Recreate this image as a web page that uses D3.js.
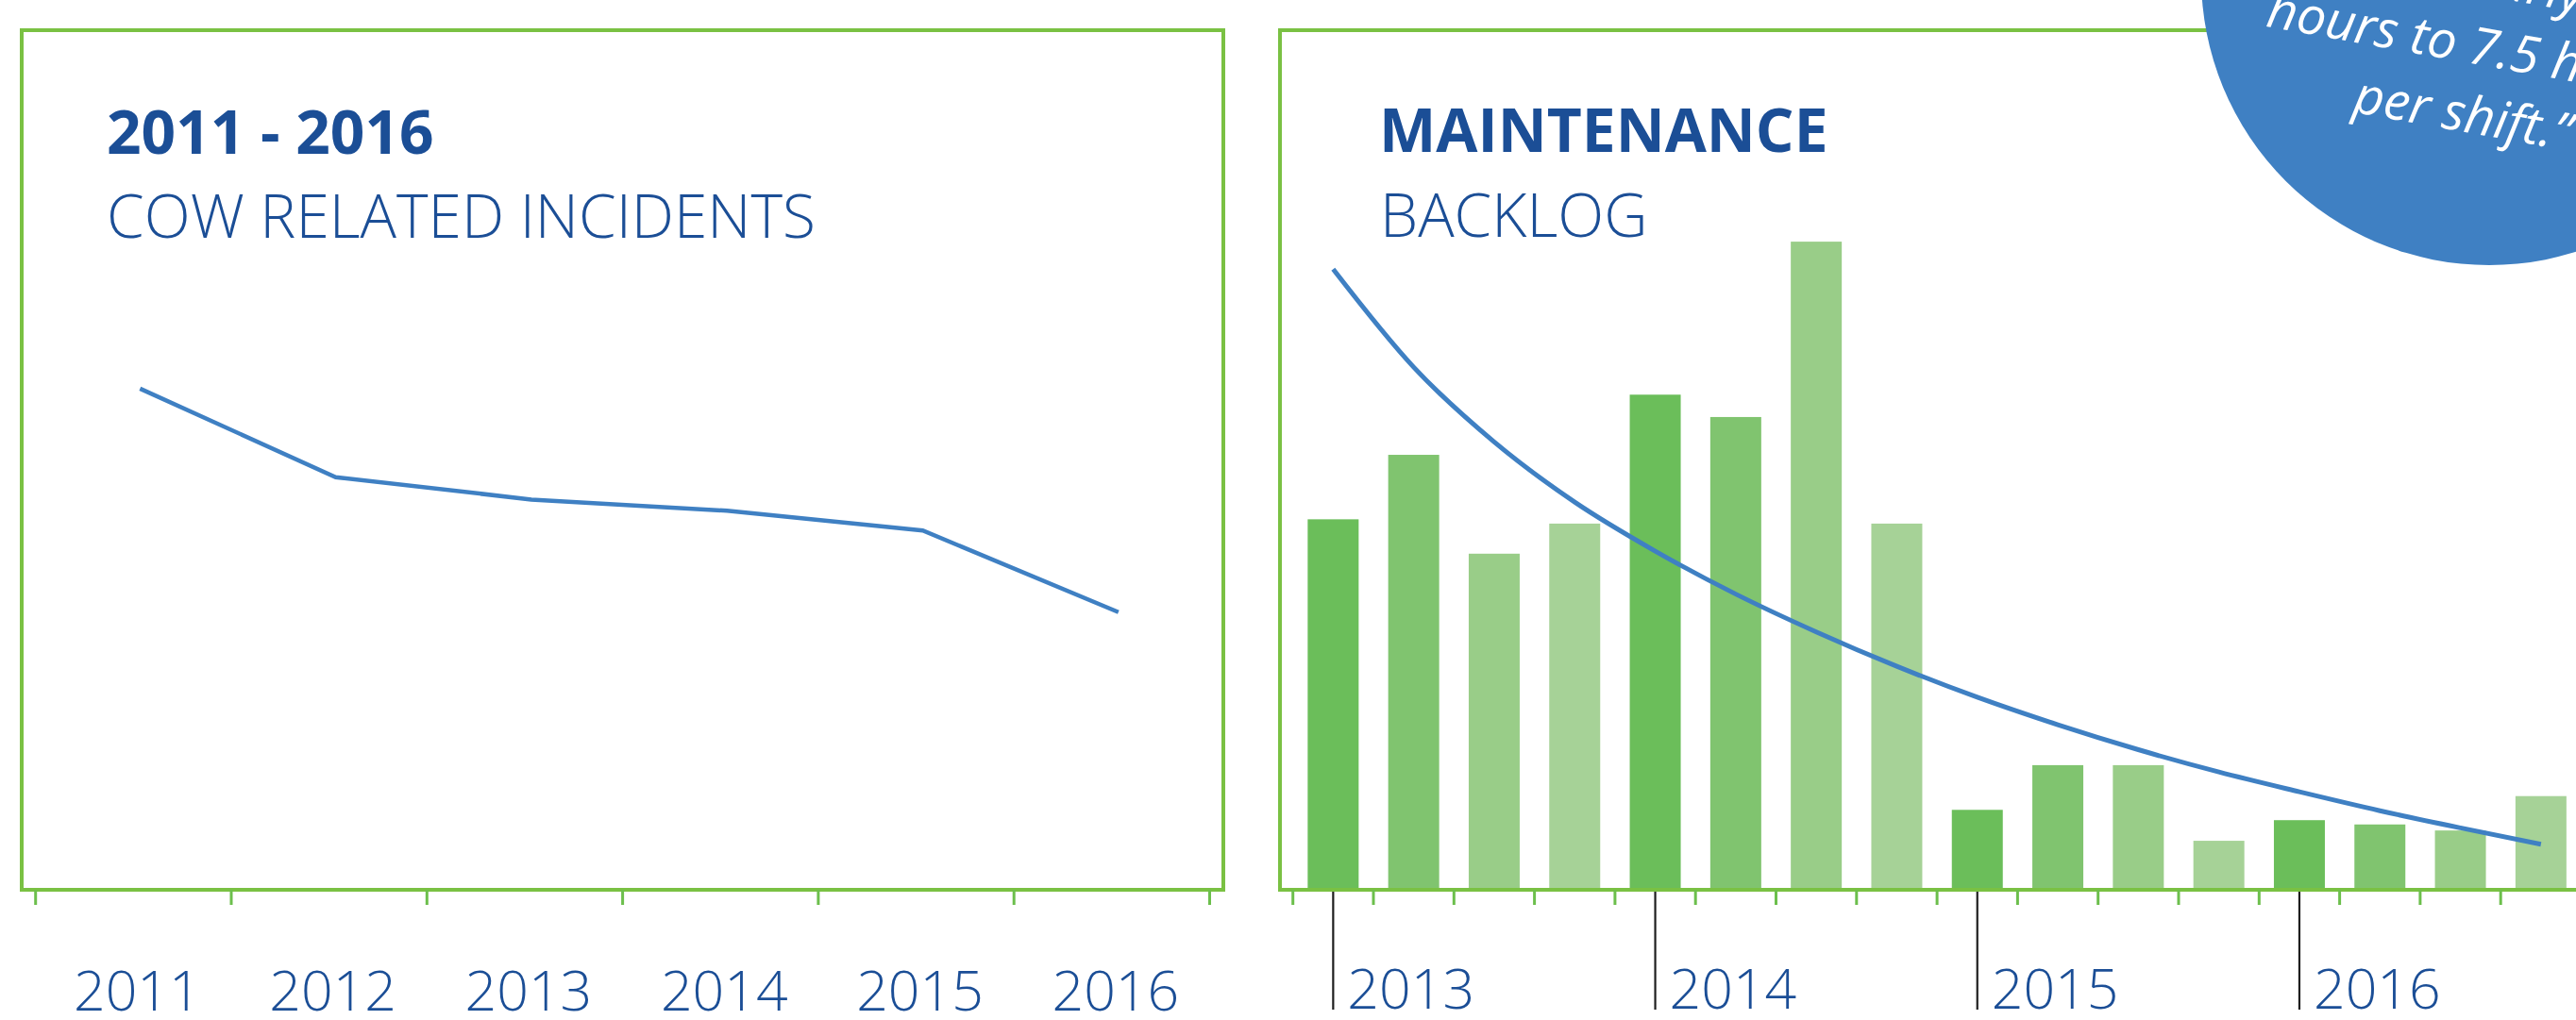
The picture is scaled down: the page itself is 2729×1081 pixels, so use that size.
<!DOCTYPE html>
<html lang="en">
    <head>
        <meta charset="utf-8">
        <title>Incidents and Backlog</title>
        <script type="text/javascript" src="https://d3js.org/d3.v7.min.js"></script>
        <style type="text/css">
            body { margin: 0; background: white; }
            text { font-family: "Open Sans", sans-serif; }
        </style>
    </head>
    <body>
        <script type="text/javascript">

        // Data
        var years = ["2011", "2012", "2013", "2014", "2015", "2016"];
        var incidents = [58.3, 48.0, 45.4, 44.1, 41.8, 32.3];

        var backlogYears = ["2013", "2014", "2015", "2016"];
        var quarters = ["Q1", "Q2", "Q3", "Q4"];
        var backlog = [43.1, 50.6, 39.1, 42.6, 57.6, 55.0, 75.4, 42.6,
                       9.3, 14.5, 14.5, 5.7, 8.1, 7.6, 6.9, 10.9];
        var trend = [72.2, 60.8, 52.1, 45.1, 39.4, 34.4, 30.0, 26.0,
                     22.4, 19.2, 16.3, 13.7, 11.4, 9.2, 7.2, 5.3];

        var quoteLines = ["from nearly 12", "hours to 7.5 hours", "per shift.\u201D"];

        // Sizes
        var w = 2729;
        var h = 1081;

        var green = "#7ac143";
        var tickGreen = "#6cbf4c";
        var blue = "#3f80c3";
        var navy = "#1b4e96";
        var barColors = ["#6bbe5a", "#80c46f", "#99cd88", "#a6d297"];

        var svg = d3.select("body")
                    .append("svg")
                    .attr("width", w)
                    .attr("height", h);

        // shared vertical scale
        var y = d3.scaleLinear().domain([0, 100]).range([943, 32]);

        // ---------- left panel ----------
        var xL = d3.scaleBand().domain(years).range([37.7, 1281.5]);

        svg.append("rect")
            .attr("x", 23).attr("y", 32)
            .attr("width", 1273).attr("height", 911)
            .attr("fill", "none")
            .attr("stroke", green)
            .attr("stroke-width", 4);

        var leftTicks = years.map(function(d){ return xL(d); }).concat([xL.range()[1]]);
        svg.selectAll("line.ltick")
            .data(leftTicks)
            .enter()
            .append("line")
            .attr("class", "ltick")
            .attr("x1", function(d){ return d; })
            .attr("x2", function(d){ return d; })
            .attr("y1", 943).attr("y2", 959)
            .attr("stroke", tickGreen)
            .attr("stroke-width", 3);

        svg.selectAll("text.lyear")
            .data(years)
            .enter()
            .append("text")
            .attr("class", "lyear")
            .attr("x", function(d){ return xL(d) + xL.bandwidth()/2 + 4; })
            .attr("y", 1071)
            .attr("text-anchor", "middle")
            .attr("font-size", 59)
            .attr("font-weight", 300)
            .attr("fill", navy)
            .text(function(d){ return d; });

        var incLine = d3.line()
            .x(function(d, i){ return xL(years[i]) + xL.bandwidth()/2 + 7; })
            .y(function(d){ return y(d); });

        svg.append("path")
            .datum(incidents)
            .attr("d", incLine)
            .attr("fill", "none")
            .attr("stroke", blue)
            .attr("stroke-width", 4.5);

        svg.append("text")
            .attr("x", 113).attr("y", 163)
            .attr("font-size", 64).attr("font-weight", 700)
            .attr("fill", navy)
            .text("2011 - 2016");

        svg.append("text")
            .attr("x", 113).attr("y", 252)
            .attr("font-size", 64).attr("font-weight", 300)
            .attr("fill", navy)
            .text("COW RELATED INCIDENTS");

        // ---------- right panel ----------
        var idx = d3.range(backlog.length);
        var xR = d3.scaleBand().domain(idx).range([1369.7, 2734.5])
                   .paddingInner(0.367).paddingOuter(0.1835);
        var step = xR.step();

        svg.append("rect")
            .attr("x", 1356).attr("y", 32)
            .attr("width", 1420).attr("height", 911)
            .attr("fill", "none")
            .attr("stroke", green)
            .attr("stroke-width", 4);

        svg.selectAll("rect.bar")
            .data(backlog)
            .enter()
            .append("rect")
            .attr("class", "bar")
            .attr("x", function(d, i){ return xR(i); })
            .attr("y", function(d){ return y(d); })
            .attr("width", xR.bandwidth())
            .attr("height", function(d){ return y(0) - y(d) - 2; })
            .attr("fill", function(d, i){ return barColors[i % quarters.length]; });

        // small ticks between quarters
        var rightTicks = idx.map(function(i){ return xR(i) - step * 0.367 / 2; })
                            .concat([xR.range()[1]]);
        svg.selectAll("line.rtick")
            .data(rightTicks)
            .enter()
            .append("line")
            .attr("class", "rtick")
            .attr("x1", function(d){ return d; })
            .attr("x2", function(d){ return d; })
            .attr("y1", 943).attr("y2", 959)
            .attr("stroke", tickGreen)
            .attr("stroke-width", 3);

        // year markers at the first quarter of each year
        var yearG = svg.selectAll("g.ryear")
            .data(backlogYears)
            .enter()
            .append("g")
            .attr("class", "ryear")
            .attr("transform", function(d, i){
                var cx = xR(i * quarters.length) + xR.bandwidth()/2;
                return "translate(" + cx + ",0)";
            });

        yearG.append("line")
            .attr("y1", 945).attr("y2", 1070)
            .attr("stroke", "#1e1e1e")
            .attr("stroke-width", 2.2);

        yearG.append("text")
            .attr("x", 15).attr("y", 1069)
            .attr("font-size", 59)
            .attr("font-weight", 300)
            .attr("fill", navy)
            .text(function(d){ return d; });

        var trendLine = d3.line()
            .x(function(d, i){ return xR(i) + xR.bandwidth()/2; })
            .y(function(d){ return y(d); })
            .curve(d3.curveMonotoneX);

        svg.append("path")
            .datum(trend)
            .attr("d", trendLine)
            .attr("fill", "none")
            .attr("stroke", blue)
            .attr("stroke-width", 5);

        svg.append("text")
            .attr("x", 1461).attr("y", 161)
            .attr("font-size", 64).attr("font-weight", 700)
            .attr("fill", navy)
            .text("MAINTENANCE");

        svg.append("text")
            .attr("x", 1462).attr("y", 251)
            .attr("font-size", 64).attr("font-weight", 300)
            .attr("fill", navy)
            .text("BACKLOG");

        // ---------- quote bubble ----------
        svg.append("circle")
            .attr("cx", 2637).attr("cy", -24)
            .attr("r", 305)
            .attr("fill", blue);

        svg.append("g")
            .attr("transform", "translate(2606,139) rotate(10.2)")
            .selectAll("text")
            .data(quoteLines)
            .enter()
            .append("text")
            .attr("x", 0)
            .attr("y", function(d, i){ return (i - quoteLines.length + 1) * 73; })
            .attr("text-anchor", "middle")
            .attr("font-size", 55)
            .attr("font-style", "italic")
            .attr("fill", "white")
            .text(function(d){ return d; });

        </script>
    </body>
</html>
